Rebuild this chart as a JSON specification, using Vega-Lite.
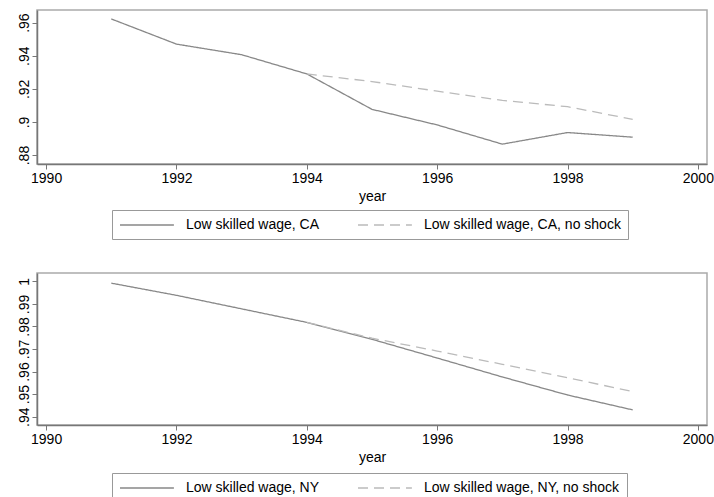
{
  "$schema": "https://vega.github.io/schema/vega-lite/v6.json",
  "background": "white",
  "padding": {"left": 16, "top": 9, "right": 0, "bottom": 0},
  "spacing": 31,
  "config": {
    "font": "Liberation Sans",
    "view": {"stroke": "#aaaaaa", "strokeWidth": 1.5},
    "axis": {
      "grid": false,
      "domainColor": "#777777",
      "domainWidth": 1.5,
      "tickColor": "#777777",
      "tickWidth": 1,
      "tickSize": 5,
      "labelFont": "Liberation Sans",
      "labelFontSize": 14,
      "labelColor": "#000000",
      "titleFont": "Liberation Sans",
      "titleFontSize": 14,
      "titleFontWeight": "normal",
      "titleColor": "#000000"
    },
    "legend": {
      "orient": "none",
      "direction": "horizontal",
      "strokeColor": "#999999",
      "padding": 7,
      "symbolType": "M-1,0H6.7",
      "symbolSize": 196,
      "symbolStrokeWidth": 1.5,
      "labelFont": "Liberation Sans",
      "labelFontSize": 14,
      "labelColor": "#000000",
      "labelOffset": 51,
      "labelLimit": 400,
      "columnPadding": 35,
      "legendX": 75,
      "legendY": 200
    }
  },
  "datasets": {
    "ca": [
      {"year": 1991, "wage": 0.9622, "series": "Low skilled wage, CA"},
      {"year": 1992, "wage": 0.947, "series": "Low skilled wage, CA"},
      {"year": 1993, "wage": 0.9406, "series": "Low skilled wage, CA"},
      {"year": 1994, "wage": 0.929, "series": "Low skilled wage, CA"},
      {"year": 1995, "wage": 0.9076, "series": "Low skilled wage, CA"},
      {"year": 1996, "wage": 0.8982, "series": "Low skilled wage, CA"},
      {"year": 1997, "wage": 0.8866, "series": "Low skilled wage, CA"},
      {"year": 1998, "wage": 0.8936, "series": "Low skilled wage, CA"},
      {"year": 1999, "wage": 0.8908, "series": "Low skilled wage, CA"},
      {"year": 1994, "wage": 0.929, "series": "Low skilled wage, CA, no shock"},
      {"year": 1995, "wage": 0.9244, "series": "Low skilled wage, CA, no shock"},
      {"year": 1996, "wage": 0.9186, "series": "Low skilled wage, CA, no shock"},
      {"year": 1997, "wage": 0.913, "series": "Low skilled wage, CA, no shock"},
      {"year": 1998, "wage": 0.9092, "series": "Low skilled wage, CA, no shock"},
      {"year": 1999, "wage": 0.9016, "series": "Low skilled wage, CA, no shock"}
    ],
    "ny": [
      {"year": 1991, "wage": 0.9992, "series": "Low skilled wage, NY"},
      {"year": 1992, "wage": 0.9938, "series": "Low skilled wage, NY"},
      {"year": 1993, "wage": 0.9878, "series": "Low skilled wage, NY"},
      {"year": 1994, "wage": 0.9818, "series": "Low skilled wage, NY"},
      {"year": 1995, "wage": 0.9743, "series": "Low skilled wage, NY"},
      {"year": 1996, "wage": 0.966, "series": "Low skilled wage, NY"},
      {"year": 1997, "wage": 0.9576, "series": "Low skilled wage, NY"},
      {"year": 1998, "wage": 0.9496, "series": "Low skilled wage, NY"},
      {"year": 1999, "wage": 0.943, "series": "Low skilled wage, NY"},
      {"year": 1994, "wage": 0.9818, "series": "Low skilled wage, NY, no shock"},
      {"year": 1995, "wage": 0.9748, "series": "Low skilled wage, NY, no shock"},
      {"year": 1996, "wage": 0.9691, "series": "Low skilled wage, NY, no shock"},
      {"year": 1997, "wage": 0.9632, "series": "Low skilled wage, NY, no shock"},
      {"year": 1998, "wage": 0.9573, "series": "Low skilled wage, NY, no shock"},
      {"year": 1999, "wage": 0.9511, "series": "Low skilled wage, NY, no shock"}
    ]
  },
  "resolve": {"scale": {"color": "independent", "strokeDash": "independent", "x": "independent", "y": "independent"}},
  "vconcat": [
    {
      "width": 670,
      "height": 154,
      "data": {"name": "ca"},
      "mark": {"type": "line", "strokeWidth": 1.3},
      "encoding": {
        "x": {"field": "year", "type": "quantitative", "title": "year",
              "scale": {"domain": [1989.86, 2000.14], "nice": false, "zero": false},
              "axis": {"values": [1990, 1992, 1994, 1996, 1998, 2000], "format": "d", "labelPadding": 2, "titlePadding": 4}},
        "y": {"field": "wage", "type": "quantitative", "title": null,
              "scale": {"domain": [0.8746, 0.9676], "nice": false, "zero": false},
              "axis": {"values": [0.88, 0.9, 0.92, 0.94, 0.96], "labelAngle": 270, "labelPadding": 1,
                       "labelExpr": "replace(toString(datum.value), /^0/, '')"}},
        "color": {"field": "series", "type": "nominal", "title": null,
                  "scale": {"range": ["#888888", "#bbbbbb"]}},
        "strokeDash": {"field": "series", "type": "nominal", "title": null,
                       "scale": {"range": [[1, 0], [10, 6]]}}
      }
    },
    {
      "width": 670,
      "height": 152,
      "data": {"name": "ny"},
      "mark": {"type": "line", "strokeWidth": 1.3},
      "encoding": {
        "x": {"field": "year", "type": "quantitative", "title": "year",
              "scale": {"domain": [1989.86, 2000.14], "nice": false, "zero": false},
              "axis": {"values": [1990, 1992, 1994, 1996, 1998, 2000], "format": "d", "labelPadding": 2, "titlePadding": 4}},
        "y": {"field": "wage", "type": "quantitative", "title": null,
              "scale": {"domain": [0.9363, 1.0037], "nice": false, "zero": false},
              "axis": {"values": [0.94, 0.95, 0.96, 0.97, 0.98, 0.99, 1], "labelAngle": 270, "labelPadding": 1,
                       "labelExpr": "replace(toString(datum.value), /^0/, '')"}},
        "color": {"field": "series", "type": "nominal", "title": null,
                  "scale": {"range": ["#888888", "#bbbbbb"]}},
        "strokeDash": {"field": "series", "type": "nominal", "title": null,
                       "scale": {"range": [[1, 0], [10, 6]]}}
      }
    }
  ]
}
